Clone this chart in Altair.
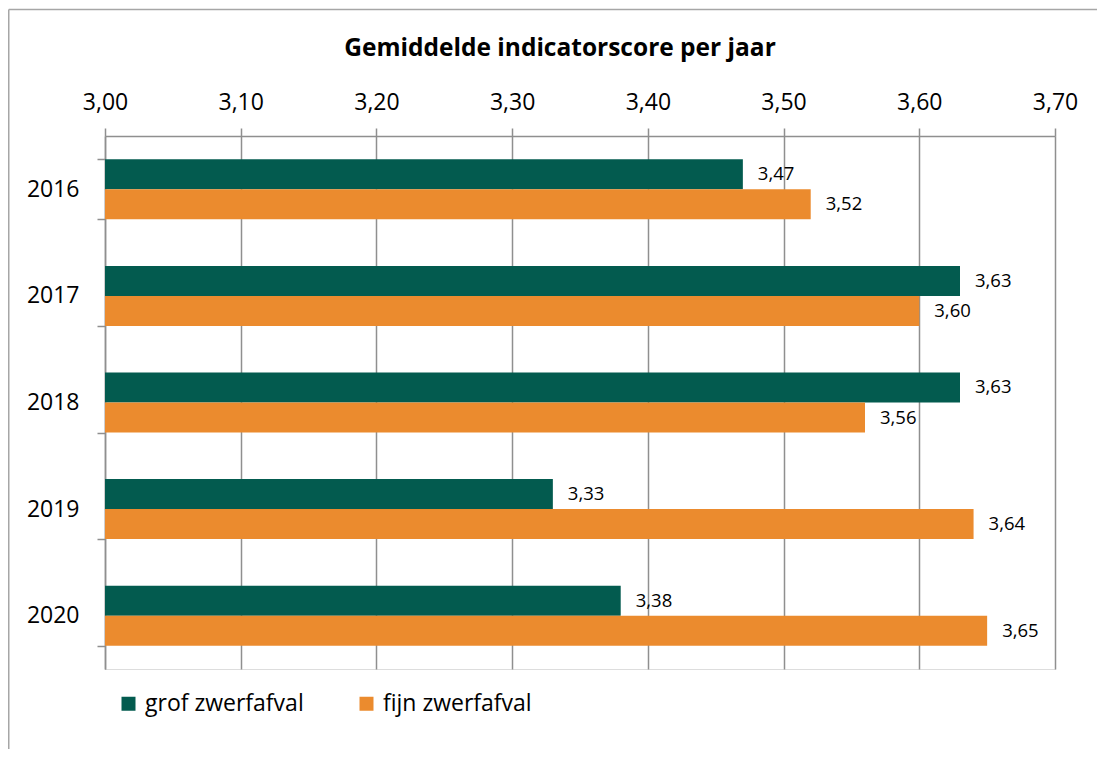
import altair as alt
import pandas as pd

years = ["2016", "2017", "2018", "2019", "2020"]
series_names = ["grof zwerfafval", "fijn zwerfafval"]
grof = [3.47, 3.63, 3.63, 3.33, 3.38]
fijn = [3.52, 3.60, 3.56, 3.64, 3.65]
x_ticks = [3.0, 3.1, 3.2, 3.3, 3.4, 3.5, 3.6, 3.7]
colors = ["#035B4F", "#EB8B2E"]

rows = []
for i, y in enumerate(years):
    rows.append({"jaar": y, "reeks": series_names[0], "waarde": grof[i], "basis": 3.0})
    rows.append({"jaar": y, "reeks": series_names[1], "waarde": fijn[i], "basis": 3.0})
df = pd.DataFrame(rows)

FONT = "Open Sans"
GRAY = "#8f8f8f"

W, H = 950, 533
PL, PT = 97, 128
TOTAL_W, TOTAL_H = 1089, 741

xscale = alt.Scale(domain=[3.0, 3.7], zero=False, nice=False)
yscale = alt.Scale(domain=years, paddingInner=0.437, paddingOuter=0.2185)

base = alt.Chart(df).encode(
    y=alt.Y("jaar:N", scale=yscale, sort=years, axis=alt.Axis(
        title=None, orient="left", labelFontSize=23, labelFont=FONT, labelColor="#000000",
        labelPadding=18, tickBand="extent", tickSize=8, tickColor=GRAY, tickWidth=1.5,
        domainColor=GRAY, domainWidth=1.5, grid=False)),
    yOffset=alt.YOffset("reeks:N", sort=series_names,
                        scale=alt.Scale(domain=series_names, paddingInner=0, paddingOuter=0)),
)

bars = base.mark_bar().encode(
    x=alt.X("waarde:Q", scale=xscale, axis=alt.Axis(
        title=None, orient="top", values=x_ticks,
        labelExpr="replace(format(datum.value, '.2f'), '.', ',')",
        labelFontSize=23, labelFont=FONT, labelColor="#000000", labelPadding=14,
        labelFlush=False, labelOverlap=False,
        tickSize=8, tickColor=GRAY, tickWidth=1.5, domainColor=GRAY, domainWidth=1.5,
        grid=True, gridColor=GRAY, gridWidth=1.5, gridOpacity=1)),
    x2=alt.X2("basis:Q"),
    color=alt.Color("reeks:N", sort=series_names,
                    scale=alt.Scale(domain=series_names, range=colors),
                    legend=alt.Legend(title=None, orient="none", legendX=12, legendY=556,
                                      direction="horizontal", symbolType="square",
                                      symbolSize=196, symbolStrokeWidth=0, symbolOpacity=1,
                                      labelFontSize=23, labelFont=FONT, labelColor="#000000",
                                      labelOffset=5, columnPadding=51)),
)

labels = base.transform_calculate(
    label="replace(format(datum.waarde, '.2f'), '.', ',')"
).mark_text(align="left", baseline="middle", dx=15, fontSize=18.5, font=FONT, color="#000000").encode(
    x=alt.X("waarde:Q", scale=xscale),
    text="label:N",
)

border_top = alt.Chart(pd.DataFrame({"k": [0]})).mark_rule(color="#a6a6a6", strokeWidth=1.5).encode(
    x=alt.value(-PL + 0.75), x2=alt.value(TOTAL_W - PL), y=alt.value(-PT + 1.5))
border_left = alt.Chart(pd.DataFrame({"k": [0]})).mark_rule(color="#a6a6a6", strokeWidth=1.5).encode(
    x=alt.value(-PL + 0.75), y=alt.value(-PT + 1.5), y2=alt.value(TOTAL_H - PT))

chart = alt.layer(bars, labels, border_top, border_left).properties(
    width=W, height=H,
    title=alt.Title("Gemiddelde indicatorscore per jaar", fontSize=24.5, font=FONT,
                    fontWeight="bold", color="#000000", anchor="middle",
                    baseline="alphabetic", offset=-72, dx=-20),
    autosize=alt.AutoSizeParams(type="none"),
    padding={"left": PL, "top": PT, "right": TOTAL_W - PL - W, "bottom": TOTAL_H - PT - H},
).configure_view(stroke=None).configure(background="#ffffff")

chart.save("out.html", embed_options={"renderer": "svg", "actions": False})
